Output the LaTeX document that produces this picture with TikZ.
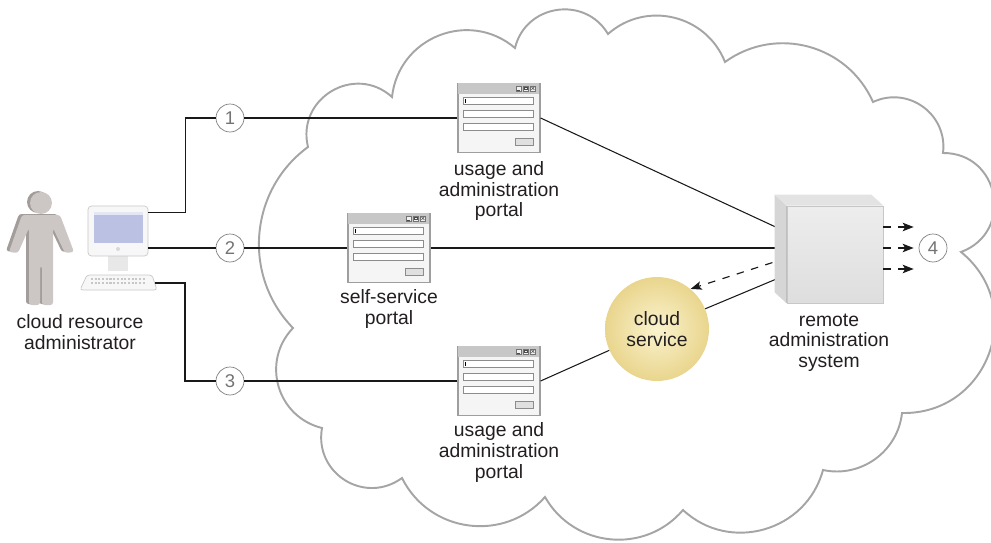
\documentclass[tikz,border=0pt]{standalone}
\usepackage{fontspec}
\setmainfont{Liberation Sans}
\usepackage{xcolor}
\usepackage{tikz}
\usetikzlibrary{arrows.meta}
\usetikzlibrary{shapes.geometric,positioning,calc}

\definecolor{cloud-line}{HTML}{A5A5A5}
\definecolor{label-text}{HTML}{231F20}
\definecolor{figure-front}{HTML}{CCC7C4}
\definecolor{figure-back}{HTML}{A29D9A}
\definecolor{screen-blue}{HTML}{BAC1E2}
\definecolor{service-in}{HTML}{FAF3CE}
\definecolor{service-out}{HTML}{E9D58D}

\tikzset{>=Stealth}
\tikzset{conn-line/.style={line width=0.6pt, black!90}}
\tikzset{conn-main/.style={line width=1.2pt, black!90}}
\tikzset{conn-dash/.style={line width=0.65pt, black!90, dash pattern=on 0.15cm off 0.15cm, -{Stealth[length=0.22cm,width=0.17cm,inset=0.05cm]}}}
\tikzset{num-mark/.style={draw=black!50, circle, minimum size=0.56cm, inner sep=0, text=black!55, font=\fontsize{10.5}{10.5}\selectfont}}
\tikzset{text-label/.style={align=center, inner sep=0, text=label-text, font=\fontsize{11}{11.8}\selectfont}}
\tikzset{portal-win/.style={draw=black!38, fill=black!4, line width=0.7pt, minimum width=1.64cm, minimum height=1.38cm, inner sep=0}}
\tikzset{ras-box/.style={draw=black!22, top color=black!7, bottom color=black!13, minimum width=1.92cm, minimum height=1.94cm, inner sep=0}}

% window with title bar, three fields and a button
\newcommand{\portalwin}[2]{%
  \node[portal-win] (#1) at (#2) {};
  \begin{scope}[shift={(#1.north west)}]
    \fill[black!22] (0.6,-0.6) rectangle (81.4,-11);
    \foreach \bx in {59,66,73}
      \draw[black!55, fill=black!5, line width=0.3pt] (\bx,-3) rectangle ++(5,-5);
    \draw[black!70, line width=0.4pt] (60,-7) -- (63,-7);
    \draw[black!70, line width=0.3pt] (67,-4.3) rectangle (70,-6.8);
    \draw[black!70, line width=0.3pt] (74,-4) -- (77,-7) (74,-7) -- (77,-4);
    \foreach \fy in {15,28,41}
      \draw[black!45, fill=white, line width=0.6pt] (6,-\fy) rectangle ++(70,-7);
    \draw[black, line width=0.5pt] (8,-16.5) -- (8,-20.5);
    \draw[black!45, fill=black!12, line width=0.6pt] (58,-56) rectangle (76,-63);
  \end{scope}}

\begin{document}
\begin{tikzpicture}[x=0.02cm, y=0.02cm]
            \useasboundingbox (0,0) rectangle (991,542);

            % cloud
            \draw[cloud-line, line width=1.1pt, fill=white]
              (308,395) to[bend left=73, looseness=1.31] (392,445)
              to[bend left=62, looseness=1.16] (515,494)
              to[bend left=68, looseness=1.23] (608,508)
              to[bend left=55, looseness=1.08] (725,480)
              to[bend left=51, looseness=1.05] (873,440)
              to[bend left=61, looseness=1.15] (943,389)
              to[bend left=80, looseness=1.45] (961,290)
              to[bend left=71, looseness=1.29] (902,129)
              to[bend left=48, looseness=1.02] (823,72)
              to[bend left=59, looseness=1.12] (683,32)
              to[bend left=55, looseness=1.08] (545,45)
              to[bend left=56, looseness=1.09] (402,64)
              to[bend left=68, looseness=1.25] (322,114)
              to[bend left=60, looseness=1.14] (293,214)
              to[bend left=49, looseness=1.03] (308,395) -- cycle;

            % administrator figure
            \foreach \dx/\dy/\col in {-3/1/figure-back, 0/0/figure-front} {
              \begin{scope}[shift={(\dx,\dy)}]
                \fill[\col, rounded corners=1.5pt] (22,327) -- (60,327) -- (74,290) -- (65,289) -- (53,314)
                  -- (53,237) -- (42,237) -- (42,276) -- (40,276) -- (40,237) -- (29,237) -- (29,314)
                  -- (18,289) -- (9,290) -- cycle;
                \fill[\col] (41,339) circle (11);
              \end{scope}
            }
            \node[text-label] (admin-text) at (80,210) {cloud resource\\administrator};

            % workstation
            \fill[black!9] (108,271) rectangle (128,287);
            \node[draw=black!22, fill=black!3, rounded corners=2pt, minimum width=1.2cm, minimum height=1cm, inner sep=0] (pc) at (118,311) {};
            \fill[screen-blue] (94,299) rectangle (143,330);
            \fill[screen-blue!40] (94,327) rectangle (143,330);
            \fill[black!15] (118,293) circle (2);
            \draw[black!22, fill=black!3, rounded corners=1.5pt] (80,252) -- (87,267) -- (152,267) -- (157,252) -- cycle;
            \foreach \ky in {263,259}
              \draw[black!22, line width=1.2pt, dash pattern=on 1.2pt off 0.9pt] (91,\ky) -- (146,\ky);
            \coordinate (kbd) at (155,259);

            % numbered marks
            \node[num-mark] (n1) at (230,424) {1};
            \node[num-mark] (n2) at (230,294) {2};
            \node[num-mark] (n3) at (230,161) {3};
            \node[num-mark] (n4) at (933,294) {4};

            % portals
            \portalwin{portal1}{499,424}
            \portalwin{portal2}{389,294}
            \portalwin{portal3}{499,161}
            \node[text-label, below=0.16cm of portal1] (portal1-text) {usage and\\administration\\portal};
            \node[text-label, below=0.12cm of portal2] (portal2-text) {self-service\\portal};
            \node[text-label, below=0.13cm of portal3] (portal3-text) {usage and\\administration\\portal};

            % cloud service and remote administration system
            \node[circle, minimum size=2.08cm, inner color=service-in, outer color=service-out, text-label] (cs) at (657,213) {cloud\\service};
            \node[ras-box] (ras) at (835,287.5) {};
            \node[text-label, below=0.2cm of ras, xshift=-0.12cm] (ras-text) {remote\\administration\\system};

            % connections
            \draw[conn-line] ([yshift=-0.14cm]pc.north east) -- ++(37,0) |- (n1);
            \draw[conn-main] (pc.east |- n2) -- (n2);
            \draw[conn-line] (kbd) -- ++(30,0) |- (n3);

            \draw[conn-line] (n1) -- (portal1);
            \draw[conn-main] (n2) -- (portal2);
            \draw[conn-line] (n3) -- (portal3);

            \draw[conn-line] (portal1.east) -- (ras);
            \draw[conn-main] (portal2) -- (portal2 -| ras.west);
            \draw[conn-line] (portal3.east) -- (cs);
            \draw[conn-line] (cs) -- (ras);
            \draw[conn-dash] ([yshift=-0.07cm]ras.west) -- (cs.50);

            \foreach \dy in {21,0,-21}
              \draw[conn-dash] ($(ras.east |- n4)+(0,\dy)$) -- ($(n4.west)+(-5,\dy)$);

            % side and top faces of the cabinet
            \fill[black!16] (ras.north west) -- ++(-12,11) -- ($(ras.south west)+(-12,11)$) -- (ras.south west) -- cycle;
            \fill[black!11] (ras.north west) -- ++(-12,11) -- ($(ras.north east)+(-12,11)$) -- (ras.north east) -- cycle;
            \draw[black!25] (ras.north west) -- (ras.south west);
        \end{tikzpicture}
\end{document}
